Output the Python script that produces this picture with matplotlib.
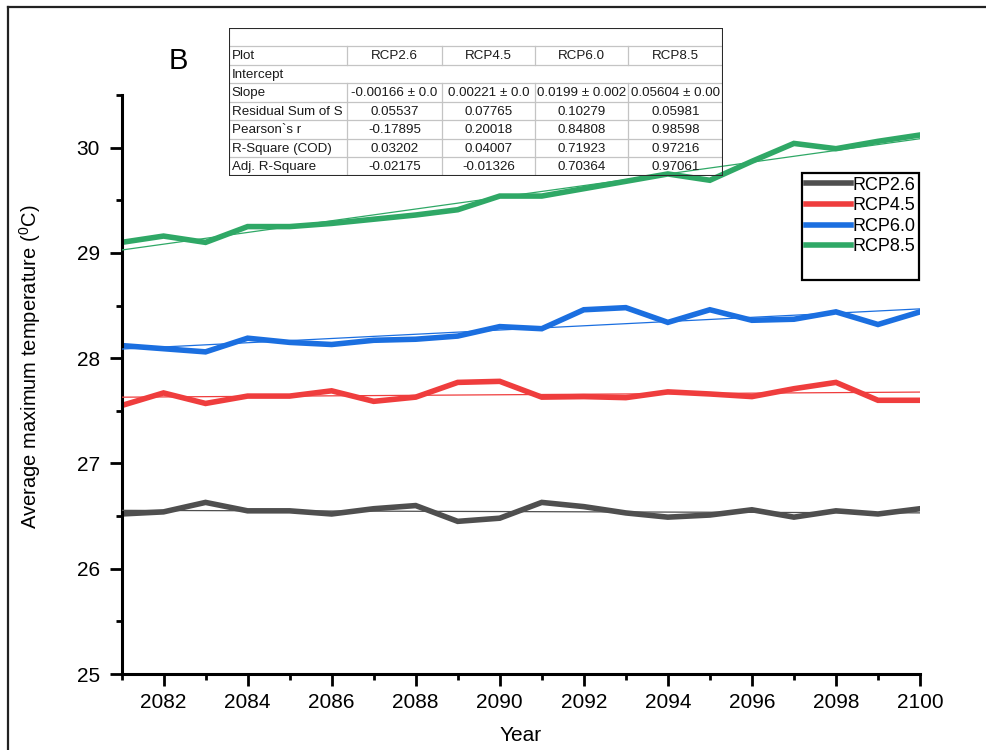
import numpy as np
import matplotlib
matplotlib.use("Agg")
import matplotlib.pyplot as plt
from matplotlib.lines import Line2D
from matplotlib.patches import Rectangle

plt.rcParams['font.family'] = ['Liberation Sans', 'DejaVu Sans']
plt.rcParams['mathtext.fontset'] = 'custom'
plt.rcParams['mathtext.rm'] = 'Liberation Sans'
plt.rcParams['mathtext.default'] = 'regular'

# data
years = [2081, 2082, 2083, 2084, 2085, 2086, 2087, 2088, 2089, 2090,
         2091, 2092, 2093, 2094, 2095, 2096, 2097, 2098, 2099, 2100]
rcp26 = [26.52, 26.54, 26.63, 26.55, 26.55, 26.52, 26.57, 26.60, 26.45, 26.48,
         26.63, 26.59, 26.53, 26.49, 26.51, 26.56, 26.49, 26.55, 26.52, 26.57]
rcp45 = [27.55, 27.67, 27.57, 27.64, 27.64, 27.69, 27.59, 27.63, 27.77, 27.78,
         27.63, 27.635, 27.625, 27.68, 27.66, 27.635, 27.71, 27.77, 27.60, 27.60]
rcp60 = [28.12, 28.09, 28.06, 28.19, 28.15, 28.13, 28.17, 28.18, 28.21, 28.30,
         28.28, 28.46, 28.48, 28.34, 28.46, 28.36, 28.37, 28.44, 28.32, 28.44]
rcp85 = [29.10, 29.16, 29.10, 29.25, 29.25, 29.28, 29.32, 29.36, 29.41, 29.54,
         29.54, 29.61, 29.68, 29.75, 29.69, 29.87, 30.04, 29.99, 30.06, 30.12]

names = ["RCP2.6", "RCP4.5", "RCP6.0", "RCP8.5"]
colors = ["#4f4f4f", "#ef3d3d", "#1b6fe0", "#2fa866"]

# fit table
row_labels = ["Plot", "Intercept", "Slope", "Residual Sum of S", "Pearson`s r",
              "R-Square (COD)", "Adj. R-Square"]
slope_txt = ["-0.00166 \u00b1 0.0", "0.00221 \u00b1 0.0", "0.0199 \u00b1 0.002", "0.05604 \u00b1 0.00"]
rss_txt = ["0.05537", "0.07765", "0.10279", "0.05981"]
pearson_txt = ["-0.17895", "0.20018", "0.84808", "0.98598"]
r2_txt = ["0.03202", "0.04007", "0.71923", "0.97216"]
adjr2_txt = ["-0.02175", "-0.01326", "0.70364", "0.97061"]

W, H = 986, 750
fig = plt.figure(figsize=(W / 100, H / 100), dpi=100)
ax = fig.add_axes([121.5 / W, 1 - 674 / H, (920 - 121.5) / W, (674 - 95) / H])

series = [rcp26, rcp45, rcp60, rcp85]
handles = []
for vals, c, n in zip(series, colors, names):
    h, = ax.plot(years, vals, color=c, lw=4, solid_joinstyle='miter', label=n, zorder=2)
    handles.append(h)
    k, b = np.polyfit(years, vals, 1)
    ax.plot(years, np.polyval([k, b], years), color=c, lw=0.9, zorder=3)

ax.set_xlim(2081, 2100)
ax.set_ylim(25, 30.5)
ax.set_xticks(range(2082, 2101, 2))
ax.set_xticks(range(2081, 2101), minor=True)
ax.set_yticks([25, 26, 27, 28, 29, 30])
ax.set_yticks(np.arange(25, 30.6, 0.5), minor=True)

for s in ["top", "right"]:
    ax.spines[s].set_visible(False)
for s in ["left", "bottom"]:
    ax.spines[s].set_linewidth(2.2)
ax.tick_params(which='major', length=8.5, width=2, labelsize=15, color='black')
ax.tick_params(which='minor', length=4.5, width=2, color='black')
ax.tick_params(axis='y', which='major', pad=7)
ax.tick_params(axis='x', which='major', pad=5)

ax.set_xlabel("Year", fontsize=15)
ax.xaxis.set_label_coords(0.5, -0.09)
ax.set_ylabel(r"Average maximum temperature ($^{0}$C)", fontsize=14.5)
ax.yaxis.set_label_coords(-0.098, 0.531)

blank = Line2D([], [], color='none')
leg = ax.legend(handles + [blank], names + [" "], loc='upper left',
                bbox_to_anchor=(802 / W, 1 - 173 / H), bbox_transform=fig.transFigure,
                fontsize=13, frameon=True, fancybox=False, framealpha=1,
                edgecolor='black', borderpad=0.2, handlelength=2.5,
                handletextpad=0.1, labelspacing=0.2, borderaxespad=0)
leg.get_frame().set_linewidth(1.6)
for lh in leg.get_lines():
    lh.set_linewidth(4)

# panel letter and frame
fig.text(178 / W, 1 - 61 / H, "B", fontsize=21, ha='center', va='center')
fig.add_artist(Line2D([8 / W, 8 / W], [0, 1 - 7 / H], color='#222222', lw=1.6))
fig.add_artist(Line2D([8 / W, 1], [1 - 7 / H, 1 - 7 / H], color='#222222', lw=1.6))

# table in pixel coordinates
tx0, tx1, ty0, ty1 = 228.5, 723.5, 27.5, 175.5
tab = fig.add_axes([tx0 / W, 1 - ty1 / H, (tx1 - tx0) / W, (ty1 - ty0) / H])
tab.set_xlim(tx0, tx1)
tab.set_ylim(ty1, ty0)
tab.axis('off')
col_edges = [tx0, 347, 442, 535, 628.3, tx1]
n_rows = len(row_labels) + 1
rh = (ty1 - ty0) / n_rows
grid_c = '#c4c4c4'
for r in range(1, n_rows):
    y = ty0 + r * rh
    tab.plot([tx0, tx1], [y, y], color=grid_c, lw=0.9)
for xe in col_edges[1:-1]:
    for r in range(1, n_rows):
        if row_labels[r - 1] == "Intercept":
            continue
        tab.plot([xe, xe], [ty0 + r * rh, ty0 + (r + 1) * rh], color=grid_c, lw=0.9)
tab.add_patch(Rectangle((tx0, ty0), tx1 - tx0, ty1 - ty0, fill=False,
                        edgecolor='#2a2a2a', lw=1.5, zorder=5))

table_rows = [names, [""] * 4, slope_txt, rss_txt, pearson_txt, r2_txt, adjr2_txt]
for i, (lab, cells) in enumerate(zip(row_labels, table_rows)):
    yc = ty0 + (i + 1.55) * rh
    tab.text(tx0 + 3, yc, lab, fontsize=9.6, ha='left', va='center', color='#1a1a1a')
    for j, t in enumerate(cells):
        xc = (col_edges[j + 1] + col_edges[j + 2]) / 2
        tab.text(xc, yc, t, fontsize=9.6, ha='center', va='center', color='#1a1a1a')

fig.savefig("out.png", dpi=100)
